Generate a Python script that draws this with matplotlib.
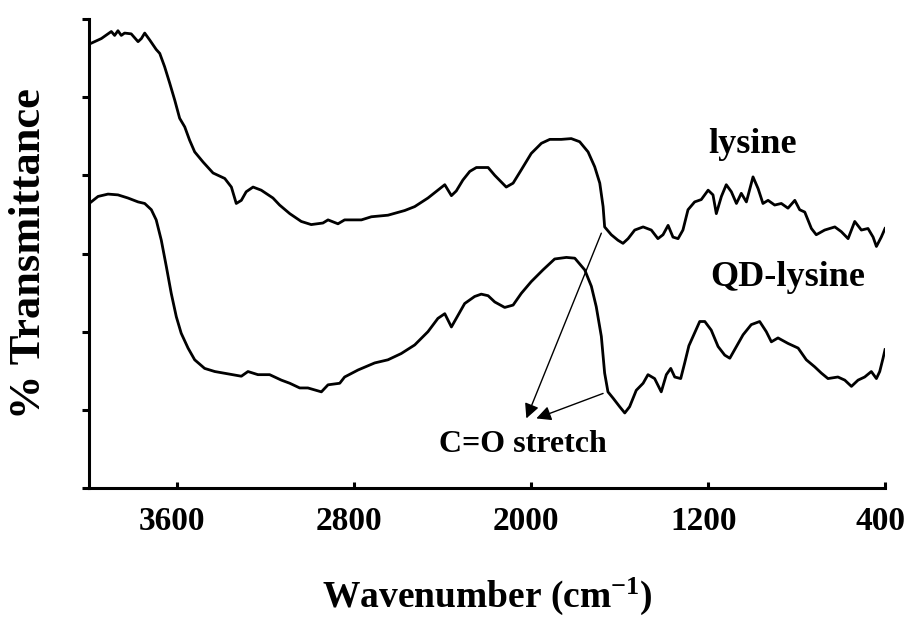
import matplotlib
matplotlib.use("Agg")
import matplotlib.pyplot as plt
import matplotlib.transforms as mtransforms
import numpy as np

plt.rcParams['font.family'] = ['Liberation Serif', 'DejaVu Serif']
plt.rcParams['font.weight'] = 'bold'
plt.rcParams['mathtext.fontset'] = 'custom'
plt.rcParams['mathtext.rm'] = 'Liberation Serif:bold'
plt.rcParams['mathtext.it'] = 'Liberation Serif:bold'
plt.rcParams['mathtext.bf'] = 'Liberation Serif:bold'

# ---- data (wavenumber cm^-1, arbitrary % transmittance) ----
lys_wn = [3990, 3944, 3899, 3884, 3869, 3854, 3839, 3809, 3778, 3763, 3748, 3725, 3696, 3680,
          3658, 3635, 3612, 3590, 3567, 3545, 3522, 3484, 3439, 3386, 3356, 3334, 3311, 3289,
          3258, 3221, 3168, 3138, 3092, 3040, 2995, 2942, 2919, 2874, 2844, 2768, 2723, 2648,
          2572, 2527, 2467, 2391, 2361, 2339, 2309, 2278, 2248, 2195, 2165, 2113, 2082, 2045,
          2000, 1954, 1916, 1864, 1819, 1781, 1743, 1713, 1690, 1675, 1668, 1638, 1608, 1585,
          1562, 1532, 1494, 1457, 1427, 1404, 1381, 1359, 1336, 1314, 1291, 1261, 1231, 1200,
          1178, 1163, 1140, 1118, 1095, 1072, 1050, 1027, 997, 974, 952, 929, 899, 869, 839,
          808, 786, 763, 733, 711, 673, 627, 598, 567, 537, 507, 477, 454, 439, 417, 400]
lys_t = [56.9, 57.5, 58.4, 57.9, 58.5, 57.9, 58.2, 58.1, 57.1, 57.5, 58.2, 57.3, 56.1, 55.6,
         53.9, 51.8, 49.6, 47.3, 46.2, 44.5, 43.0, 41.7, 40.3, 39.6, 38.5, 36.4, 36.8, 37.9,
         38.5, 38.1, 37.1, 36.2, 35.1, 34.1, 33.7, 33.9, 34.3, 33.8, 34.3, 34.3, 34.7, 34.9,
         35.5, 36.0, 37.1, 38.8, 37.4, 38.0, 39.4, 40.5, 41.0, 41.0, 40.0, 38.5, 39.0, 40.7,
         42.8, 44.1, 44.6, 44.6, 44.7, 44.3, 43.0, 41.1, 39.0, 36.0, 33.4, 32.4, 31.7, 31.3,
         31.9, 33.0, 33.4, 33.0, 31.9, 32.4, 33.6, 32.1, 31.9, 33.0, 35.6, 36.6, 36.9, 38.1,
         37.5, 35.1, 37.3, 38.8, 37.9, 36.4, 37.7, 36.6, 39.8, 38.3, 36.4, 36.8, 36.2, 36.4, 35.8,
         36.8, 35.6, 35.3, 33.2, 32.4, 33.0, 33.4, 32.8, 31.9, 34.1, 33.0, 33.2, 32.1, 30.9, 32.1, 33.2]

qd_wn = [3990, 3959, 3914, 3869, 3824, 3778, 3748, 3718, 3696, 3673, 3650, 3628, 3605, 3583,
         3552, 3522, 3477, 3431, 3371, 3311, 3281, 3236, 3183, 3130, 3092, 3047, 3010, 2949,
         2919, 2866, 2844, 2783, 2708, 2648, 2588, 2527, 2467, 2422, 2391, 2361, 2339, 2301,
         2256, 2226, 2195, 2165, 2120, 2082, 2045, 2000, 1947, 1894, 1841, 1803, 1758, 1728,
         1706, 1683, 1668, 1653, 1630, 1600, 1577, 1555, 1525, 1494, 1472, 1442, 1412, 1389,
         1369, 1351, 1324, 1306, 1287, 1268, 1238, 1215, 1186, 1155, 1125, 1102, 1072, 1042,
         1005, 967, 937, 914, 884, 839, 793, 756, 718, 688, 658, 613, 582, 552, 522, 492, 462,
         439, 424, 409, 400]
qd_t = [36.6, 37.3, 37.6, 37.5, 37.1, 36.6, 36.4, 35.6, 34.3, 31.7, 28.3, 24.9, 21.9, 19.8,
        17.9, 16.4, 15.3, 14.9, 14.6, 14.3, 14.9, 14.5, 14.5, 13.8, 13.4, 12.8, 12.8, 12.3,
        13.2, 13.4, 14.2, 15.1, 16.0, 16.4, 17.2, 18.3, 20.0, 21.7, 22.3, 20.6, 21.7, 23.6,
        24.5, 24.8, 24.6, 23.8, 23.1, 23.4, 24.9, 26.4, 27.9, 29.3, 29.5, 29.4, 27.9, 25.8,
        23.2, 19.4, 14.7, 12.3, 11.5, 10.4, 9.6, 10.4, 12.5, 13.4, 14.5, 14.0, 12.3, 14.5,
        15.3, 14.2, 14.0, 16.0, 18.2, 19.4, 21.3, 21.3, 20.2, 18.1, 17.0, 16.6, 18.1, 19.6,
        20.9, 21.3, 20.0, 18.7, 19.2, 18.5, 17.9, 16.4, 15.5, 14.7, 14.0, 14.2, 13.8, 13.0, 13.8, 14.2, 14.9,
        14.0, 14.9, 16.6, 17.7]

xticks = [3600, 2800, 2000, 1200, 400]
xtick_labels = ['3600', '2800', '2000', '1200', '400']

fig = plt.figure(figsize=(9.08, 6.25), dpi=100)
ax = fig.add_axes([0.098, 0.2192, 0.8767, 0.7504])

ax.plot(lys_wn, lys_t, color='black', lw=2.0)
ax.plot(qd_wn, qd_t, color='black', lw=2.0)

ax.set_xlim(4000, 400)
ax.set_ylim(0, 60)
ax.set_xticks(xticks)
ax.set_xticklabels(xtick_labels, fontsize=24, fontweight='bold')
ax.set_yticks(np.arange(0, 61, 10))
ax.set_yticklabels([])

for s in ['top', 'right']:
    ax.spines[s].set_visible(False)
for s in ['left', 'bottom']:
    ax.spines[s].set_linewidth(2.2)

ax.tick_params(axis='x', direction='in', length=4, width=2.2, pad=13)
ax.tick_params(axis='y', direction='out', length=5, width=2.2)

# shift tick labels slightly left, as in the reference
offset = mtransforms.ScaledTranslation(-5 / 100, 0, fig.dpi_scale_trans)
for lbl in ax.get_xticklabels():
    lbl.set_transform(lbl.get_transform() + offset)

ax.set_xlabel(r'Wavenumber (cm$^{-1}$)', fontsize=27, fontweight='bold', labelpad=28)
ax.set_ylabel('% Transmittance', fontsize=32, fontweight='bold', labelpad=20)

ax.text(1000, 42.9, 'lysine', fontsize=26, fontweight='bold', ha='center', va='baseline')
ax.text(841, 25.8, 'QD-lysine', fontsize=26, fontweight='bold', ha='center', va='baseline')
ax.text(2037, 4.6, 'C=O stretch', fontsize=23, fontweight='bold', ha='center', va='baseline')

arrow_kw = dict(arrowstyle='-|>', color='black', lw=1.0, mutation_scale=22, shrinkA=0, shrinkB=0)
ax.annotate('', xy=(2022, 8.9), xytext=(1683, 32.6), arrowprops=arrow_kw)
ax.annotate('', xy=(1977, 8.9), xytext=(1675, 12.1), arrowprops=arrow_kw)

fig.savefig('out.png', dpi=100)
